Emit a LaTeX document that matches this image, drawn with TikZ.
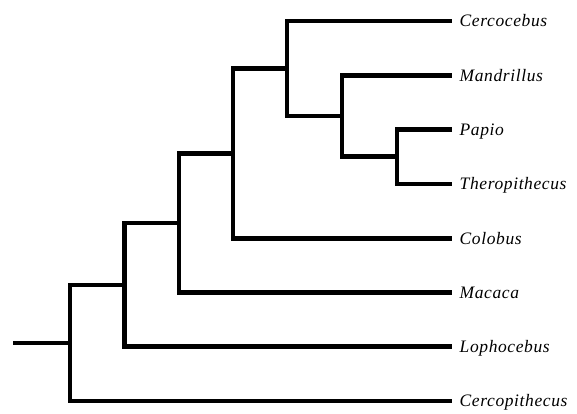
\documentclass[tikz,border=0pt]{standalone}
\usepackage{fontspec}
\setmainfont{Liberation Serif}
\usetikzlibrary{calc}

\begin{document}
\begin{tikzpicture}[x=1pt,y=-1pt,
	branch/.style={line width=4.7pt,line join=miter,line cap=butt},
	taxon/.style={anchor=west,inner xsep=7.5pt,inner ysep=0pt,text height=11.6pt,text depth=0pt,font=\fontsize{17.5}{17.5}\selectfont\itshape\addfontfeatures{LetterSpace=3.5}}]
	\useasboundingbox (0,0) rectangle (577,414);
	% taxa
	\draw (452,21) node (cerco) [taxon] {Cercocebus};
	\draw (452,75.3) node (mandr) [taxon] {Mandrillus};
	\draw (452,129.6) node (papio) [taxon] {Papio};
	\draw (452,183.9) node (thero) [taxon] {Theropithecus};
	\draw (452,238.2) node (colob) [taxon] {Colobus};
	\draw (452,292.5) node (macac) [taxon] {Macaca};
	\draw (452,346.8) node (lopho) [taxon] {Lophocebus};
	\draw (452,401.1) node (cercop) [taxon] {Cercopithecus};
	% splits
	\coordinate (pt) at (397,156.75);
	\coordinate (mpt) at (342,116);
	\coordinate (cmpt) at (287,68.5);
	\coordinate (col) at (233,153.4);
	\coordinate (mac) at (179,222.9);
	\coordinate (lop) at (124.5,284.9);
	\coordinate (root) at (70,343);
	\coordinate (stub) at (13,343);

	\draw[branch] (pt) |- (papio.west);
	\draw[branch] (pt) |- (thero.west);
	\draw[branch] (mpt) |- (mandr.west);
	\draw[branch] (mpt) |- (pt);
	\draw[branch] (cmpt) |- (cerco.west);
	\draw[branch] (cmpt) |- (mpt);
	\draw[branch] (col) |- (cmpt);
	\draw[branch] (col) |- (colob.west);
	\draw[branch] (mac) |- (col);
	\draw[branch] (mac) |- (macac.west);
	\draw[branch] (lop) |- (mac);
	\draw[branch] (lop) |- (lopho.west);
	\draw[branch] (root) |- (lop);
	\draw[branch] (root) |- (cercop.west);
	\draw[branch] (stub) -- (root);
\end{tikzpicture}
\end{document}
